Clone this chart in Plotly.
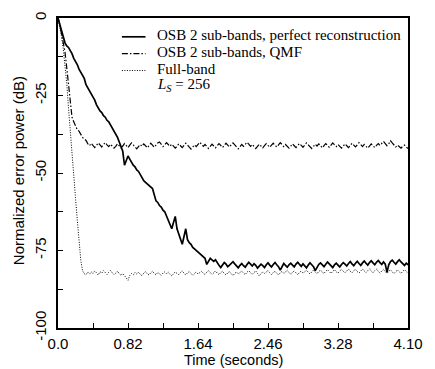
import numpy as np
import plotly.graph_objects as go

# sampling grid (seconds), 201 samples from 0 to 4.10 s
time_s = np.linspace(0.0, 4.1, 201)

# OSB 2 sub-bands, perfect reconstruction (dB)
pr_db = [
    0, -2, -4, -6, -8, -9, -9.5, -10.5, -11.5, -13,
    -14, -15, -16.5, -17.5, -18.5, -19.5, -21.5, -22.5, -23.5, -24.5,
    -25.5, -26.5, -28, -29, -30, -30.5, -31.5, -32, -33, -33.5,
    -34.5, -35.5, -36.5, -37.5, -38.5, -40, -41.5, -43, -47.5, -46,
    -44.5, -45.5, -46.5, -47.5, -48, -49, -49.5, -50.5, -51.5, -52.5,
    -53, -53.5, -54, -54.5, -55, -57, -59, -59.5, -60.5, -61,
    -62, -62.5, -64, -65, -66.5, -68, -66, -64, -68, -69.5,
    -71, -73, -70.5, -68, -71.5, -72.5, -73, -74, -74.5, -75,
    -75.5, -76, -76.5, -77, -77.5, -79.5, -78.5, -77.5, -78, -78.5,
    -78,
    -79.0, -79.8, -80.5, -79.6, -78.9, -79.4, -80.2, -79.7, -79.1, -78.6,
    -79.3, -80.1, -80.6, -79.8, -79.2, -79.9, -80.4, -79.5, -78.8, -79.4,
    -80.0, -79.3, -79.8, -80.7, -80.1, -79.4, -79.9, -80.5, -79.6, -79.0,
    -79.7, -80.3, -79.5, -78.9, -79.6, -80.2, -81.3, -80.0, -79.2, -79.8,
    -80.4, -79.6, -79.1, -79.7, -80.3, -79.4, -78.8, -79.5, -80.1, -79.3,
    -79.9, -80.6, -79.7, -79.0, -79.6, -80.2, -81.5, -80.4, -79.5, -79.0,
    -79.6, -80.2, -79.4, -78.7, -79.3, -79.9, -80.5, -79.6, -79.1, -79.7,
    -80.3, -79.5, -78.9, -79.4, -80.0, -79.2, -78.6, -79.3, -79.9, -79.1,
    -78.5, -79.2, -79.8, -79.0, -78.4, -79.1, -79.7, -78.9, -78.3, -79.0,
    -79.6, -78.8, -78.2, -78.9, -79.5, -78.7, -79.4, -82.0, -79.6, -78.6,
    -78.1, -78.8, -79.4, -78.6, -78.0, -78.7, -79.3, -79.8, -79.1, -79.6,
]

# OSB 2 sub-bands, QMF (dB)
qmf_db = [
    0, -2, -5, -7.5, -11, -16, -22, -28, -32, -33.5,
    -35, -36, -36.5, -37.5, -38.5, -39, -39.5, -40.5,
    -41.2, -40.4, -41.0, -41.8, -41.1, -40.3, -40.9, -41.6, -40.8, -40.2,
    -40.9, -41.5, -40.7, -41.3, -42.0, -41.4, -40.6, -41.2, -41.9, -41.3,
    -40.5, -41.1, -41.8, -41.0, -40.3, -40.9, -41.6, -42.2, -41.5, -40.8,
    -41.4, -40.6, -41.2, -41.9, -41.2, -40.4, -41.0, -41.7, -41.0, -40.3,
    -40.0, -40.8, -41.5, -40.9, -40.2, -40.8, -41.4, -40.7, -41.3, -42.0,
    -41.4, -40.6, -41.2, -41.8, -41.1, -40.4, -41.0, -41.7, -42.3, -41.6,
    -40.9, -41.5, -40.8, -40.1, -40.7, -41.4, -40.8, -41.5, -42.1, -41.4,
    -40.7, -41.3, -41.9, -41.2, -40.5, -41.1, -41.8, -41.1, -40.4, -41.0,
    -41.6, -40.9, -40.3, -40.9, -41.6, -42.2, -41.5, -40.8, -41.4, -40.7,
    -40.1, -40.7, -41.4, -40.8, -41.5, -42.1, -41.4, -40.7, -41.3, -41.9,
    -41.2, -40.5, -41.1, -41.7, -41.0, -40.4, -41.0, -41.6, -40.9, -40.2,
    -40.8, -41.5, -40.8, -41.4, -42.0, -41.3, -40.6, -41.2, -41.8, -41.1,
    -40.5, -41.1, -41.7, -41.0, -40.3, -40.9, -41.6, -42.1, -41.4, -40.7,
    -41.3, -40.6, -41.2, -41.9, -41.2, -40.5, -41.1, -41.7, -41.0, -40.3,
    -40.9, -41.5, -40.8, -41.4, -42.0, -41.3, -40.6, -41.2, -41.8, -41.1,
    -40.4, -41.0, -41.6, -40.9, -40.2, -40.8, -41.5, -40.8, -41.4, -42.0,
    -41.3, -40.6, -41.2, -41.8, -41.1, -40.5, -41.1, -40.4, -39.8, -40.5,
    -41.2, -40.6, -39.6, -40.3, -41.0, -41.6, -41.0, -41.5, -42.0, -41.4,
    -41.0, -41.6, -42.1,
]

# Full-band (dB)
fb_db = [
    0, -2.5, -6, -10, -15, -21, -29, -37, -44, -51,
    -58, -65, -72, -78, -81.5, -82.5,
    -82.8, -82.0, -82.6, -81.9, -82.4, -81.6, -82.2, -82.9, -81.8, -82.3,
    -81.5, -82.1, -82.7, -82.0, -81.4, -82.2, -82.8, -82.3, -81.7, -82.5,
    -83.0, -82.4, -83.2, -83.6, -84.6, -83.1, -82.4, -82.9, -82.1, -82.6,
    -82.0, -82.7, -83.1, -82.3, -81.8, -82.5, -82.9, -82.2, -81.7, -82.4,
    -82.8, -82.1, -82.6, -83.0, -82.3, -81.9, -82.5, -82.0, -82.7, -83.2,
    -82.5, -81.9, -82.4, -82.8, -82.1, -81.6, -82.3, -82.9, -82.2, -81.8,
    -82.4, -83.0, -82.5, -81.9, -82.6, -82.2, -81.7, -82.3, -82.8, -82.0,
    -81.5, -82.1, -82.7, -82.2, -81.6, -82.3, -82.8, -82.1, -81.7, -82.4,
    -82.9, -82.2, -81.8, -82.5, -83.1, -82.4, -81.9, -82.6, -82.1, -81.6,
    -82.3, -82.8, -82.0, -81.5, -82.2, -82.7, -82.1, -81.6, -82.4, -83.2,
    -82.5, -81.9, -82.4, -82.0, -81.5, -82.2, -82.8, -82.1, -81.7, -82.3,
    -82.9, -82.2, -81.7, -82.4, -82.0, -81.4, -82.1, -82.7, -82.0, -81.6,
    -82.2, -82.8, -82.1, -81.6, -82.3, -81.9, -81.4, -82.0, -82.6, -81.9,
    -81.3, -81.9, -82.5, -81.8, -81.3, -82.0, -82.4, -81.7, -81.2, -81.8,
    -82.4, -81.7, -81.2, -81.9, -82.3, -81.6, -81.1, -81.7, -82.2, -81.6,
    -81.0, -81.7, -82.2, -81.5, -81.1, -81.8, -82.3, -81.6, -81.0, -81.6,
    -82.1, -81.5, -80.9, -81.6, -82.2, -81.5, -81.0, -81.7, -82.3, -81.6,
    -81.1, -81.8, -82.4, -81.7, -81.2, -81.9, -82.5, -81.8, -81.3, -81.9,
    -82.4, -81.7, -81.2, -81.8, -82.3,
]

x_tick_vals = [0.0, 0.82, 1.64, 2.46, 3.28, 4.10]
x_tick_text = ["0.0", "0.82", "1.64", "2.46", "3.28", "4.10"]
y_tick_vals = [0, -25, -50, -75, -100]
y_tick_text = ["0", "-25", "-50", "-75", "-100"]

legend_labels = [
    "OSB 2 sub-bands, perfect reconstruction",
    "OSB 2 sub-bands, QMF",
    "Full-band",
]
note_text = "<i>L<sub>S</sub></i> = 256"

fig = go.Figure()
fig.add_trace(go.Scatter(x=time_s, y=fb_db, mode="lines",
                         line=dict(color="black", width=1, dash="1px,1.5px"),
                         name=legend_labels[2], showlegend=False))
fig.add_trace(go.Scatter(x=time_s, y=qmf_db, mode="lines",
                         line=dict(color="black", width=1.2, dash="6px,2px,1.5px,2px"),
                         name=legend_labels[1], showlegend=False))
fig.add_trace(go.Scatter(x=time_s, y=pr_db, mode="lines",
                         line=dict(color="black", width=1.7),
                         name=legend_labels[0], showlegend=False))

tick_font = dict(family="Liberation Sans, Arial, sans-serif", size=15, color="black")
fig.update_layout(
    width=435, height=369,
    margin=dict(l=58, r=21, t=15, b=41),
    paper_bgcolor="white", plot_bgcolor="white",
    xaxis=dict(range=[0, 4.1], tickmode="array", tickvals=x_tick_vals, ticktext=x_tick_text,
               ticks="inside", ticklen=5, tickwidth=1, tickcolor="black",
               minor=dict(tickmode="linear", tick0=0, dtick=0.41, ticks="inside",
                          ticklen=5, tickwidth=1, tickcolor="black", showgrid=False),
               showline=True, linecolor="black", linewidth=1.5, mirror=True,
               showgrid=False, zeroline=False, tickfont=tick_font,
               ticklabelstandoff=1),
    yaxis=dict(range=[-100, 0], tickmode="array", tickvals=y_tick_vals, ticktext=y_tick_text,
               ticks="inside", ticklen=5, tickwidth=1, tickcolor="black",
               minor=dict(tickmode="linear", tick0=0, dtick=12.5, ticks="inside",
                          ticklen=5, tickwidth=1, tickcolor="black", showgrid=False),
               showline=True, linecolor="black", linewidth=1.5, mirror=True,
               showgrid=False, zeroline=False, tickfont=tick_font, tickangle=-90,
               ticklabelstandoff=4),
)

H = 369 - 15 - 41
W = 435 - 58 - 21
def px_x(px):
    return (px - 58) / W
def px_y(py):
    return 1 - (py - 15) / H

# axis titles
fig.add_annotation(text="Time (seconds)", xref="paper", yref="paper",
                   x=0.5, y=px_y(360), yanchor="middle", showarrow=False,
                   font=dict(family="Liberation Sans, Arial, sans-serif", size=14.5, color="black"))
fig.add_annotation(text="Normalized error power (dB)", xref="paper", yref="paper",
                   x=px_x(18), y=px_y(169), xanchor="center", yanchor="middle",
                   textangle=-90, showarrow=False,
                   font=dict(family="Liberation Sans, Arial, sans-serif", size=15, color="black"))

# legend (drawn as key samples + labels)
serif = dict(family="Liberation Serif, Times New Roman, serif", size=15, color="black")
rows_y = [32, 49, 66, 83]
styles = [dict(color="black", width=1.7),
          dict(color="black", width=1.2, dash="6px,2px,1.5px,2px"),
          dict(color="black", width=1, dash="1px,1.5px")]
for i, lab in enumerate(legend_labels):
    fig.add_shape(type="line", xref="paper", yref="paper",
                  x0=px_x(123), x1=px_x(147), y0=px_y(rows_y[i] + 2), y1=px_y(rows_y[i] + 2),
                  line=styles[i])
    fig.add_annotation(text=lab, xref="paper", yref="paper", x=px_x(157), y=px_y(rows_y[i]),
                       xanchor="left", yanchor="middle", showarrow=False, font=serif)
fig.add_annotation(text=note_text, xref="paper", yref="paper", x=px_x(157), y=px_y(rows_y[3]),
                   xanchor="left", yanchor="middle", showarrow=False, font=serif)

fig.write_html("out.html")
